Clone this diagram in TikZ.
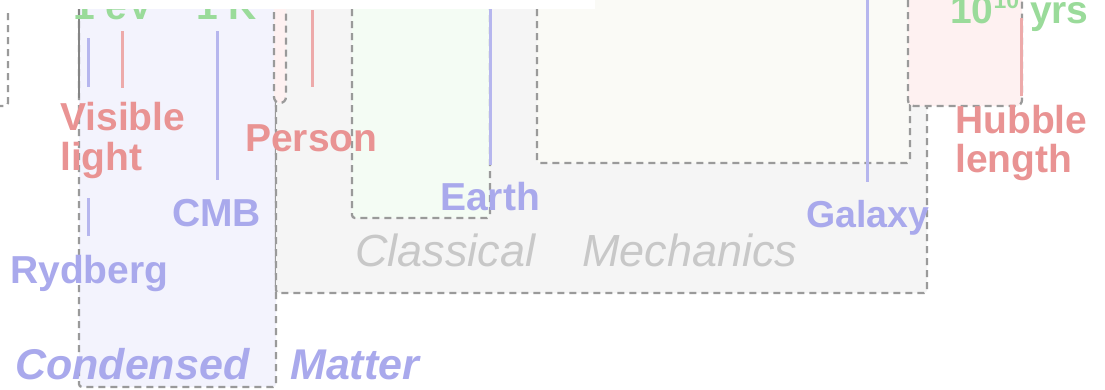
\documentclass[tikz,border=0pt]{standalone}
\usepackage{fontspec}
\setmainfont{Liberation Sans}
\definecolor{cmfill}{HTML}{F3F3FD}
\definecolor{clfill}{HTML}{F5F5F5}
\definecolor{grfill}{HTML}{F4FCF4}
\definecolor{crfill}{HTML}{FAFAF6}
\definecolor{pkfill}{HTML}{FEF1F1}
\definecolor{edgegray}{HTML}{9A9A9A}
\definecolor{solidgray}{HTML}{858585}
\definecolor{redtext}{HTML}{E99393}
\definecolor{bluetext}{HTML}{A9A9EC}
\definecolor{greentext}{HTML}{9ADB9A}
\definecolor{graytext}{HTML}{C8C8C8}
\definecolor{redline}{HTML}{EDAAAA}
\definecolor{blueline}{HTML}{B6B6EE}
\begin{document}
\begin{tikzpicture}[x=1pt,y=-1pt,
  region/.style={draw=edgegray, line width=2.3pt, dash pattern=on 7pt off 5pt, rounded corners=3pt},
  marker/.style={line width=3pt},
  scalelab/.style={font=\fontsize{39}{39}\selectfont\bfseries, inner sep=0pt, anchor=base west},
  fieldlab/.style={font=\fontsize{45}{45}\selectfont\itshape, text=graytext, inner sep=0pt, anchor=base west},
  cmlab/.style={font=\fontsize{43}{43}\selectfont\bfseries\itshape, text=bluetext, inner sep=0pt, anchor=base west}
]
\useasboundingbox (0,0) rectangle (1105,389);
\clip (0,0) rectangle (1105,389);
\fill[white] (0,0) rectangle (1105,389);

% domain regions
\path[region, fill=white] (-40,-30) rectangle (8,106);
\path[region, fill=cmfill] (79,-30) rectangle (276,387);
\path[region, fill=clfill] (276,-30) rectangle (927,293);
\path[region, fill=pkfill, rounded corners=6pt] (274,-30) rectangle (286,103);
\path[region, fill=grfill] (352,-30) rectangle (490,218);
\path[region, fill=crfill] (537,-30) rectangle (910,163);
\path[region, fill=pkfill, rounded corners=6pt] (908,-30) rectangle (1022,106);
\coordinate (qtop) at (79,0);
\coordinate (qbot) at (79,98);
\draw[solidgray, line width=1.8pt] (qtop) -- (qbot);

% scale markers
\coordinate (ryA) at (88,38);   \coordinate (ryB) at (88,87);
\coordinate (ryC) at (88,198);  \coordinate (ryD) at (88,236);
\coordinate (viA) at (122,31);  \coordinate (viB) at (122,88);
\coordinate (cmbA) at (217,31); \coordinate (cmbB) at (217,180);
\coordinate (peA) at (312,10);  \coordinate (peB) at (312,87);
\coordinate (eaA) at (490,0);   \coordinate (eaB) at (490,165);
\coordinate (gaA) at (867,0);   \coordinate (gaB) at (867,182);
\coordinate (huA) at (1021,18); \coordinate (huB) at (1021,96);
\draw[marker, blueline] (ryA) -- (ryB);
\draw[marker, blueline] (ryC) -- (ryD);
\draw[marker, redline] (viA) -- (viB);
\draw[marker, blueline] (cmbA) -- (cmbB);
\draw[marker, redline] (peA) -- (peB);
\draw[marker, blueline] (eaA) -- (eaB);
\draw[marker, blueline] (gaA) -- (gaB);
\draw[marker, redline] (huA) -- (huB);

% energy scale labels along the top
\node[scalelab, text=greentext] (ev) at (73,19) {1 eV};
\node[scalelab, text=greentext] (kel) at (196,19) {1 K};
\fill[white] (0,0) rectangle (595,9);
\node[scalelab, text=greentext] (age) at (950,23) {10\raisebox{15pt}{\fontsize{23}{23}\selectfont\bfseries 10} yrs};

% length scale labels
\node[scalelab, text=redtext] (vis1) at (60,130) {Visible};
\node[scalelab, text=redtext] (vis2) at (60,170) {light};
\node[scalelab, text=bluetext] (ryd) at (10,283) {Rydberg};
\node[scalelab, text=bluetext] (cmb) at (172,226) {CMB};
\node[scalelab, text=redtext] (per) at (245,151) {Person};
\node[scalelab, text=bluetext] (ear) at (440,210) {Earth};
\node[scalelab, text=bluetext, font=\fontsize{37.5}{37.5}\selectfont\bfseries] (gal) at (806,227) {Galaxy};
\node[scalelab, text=redtext] (hub1) at (955,133) {Hubble};
\node[scalelab, text=redtext] (hub2) at (955,172) {length};

% field names
\node[fieldlab] (cl1) at (355,266) {Classical};
\node[fieldlab] (cl2) at (582,266) {Mechanics};
\node[cmlab] (cm1) at (15,379) {Condensed};
\node[cmlab] (cm2) at (290,379) {Matter};
\end{tikzpicture}
\end{document}
